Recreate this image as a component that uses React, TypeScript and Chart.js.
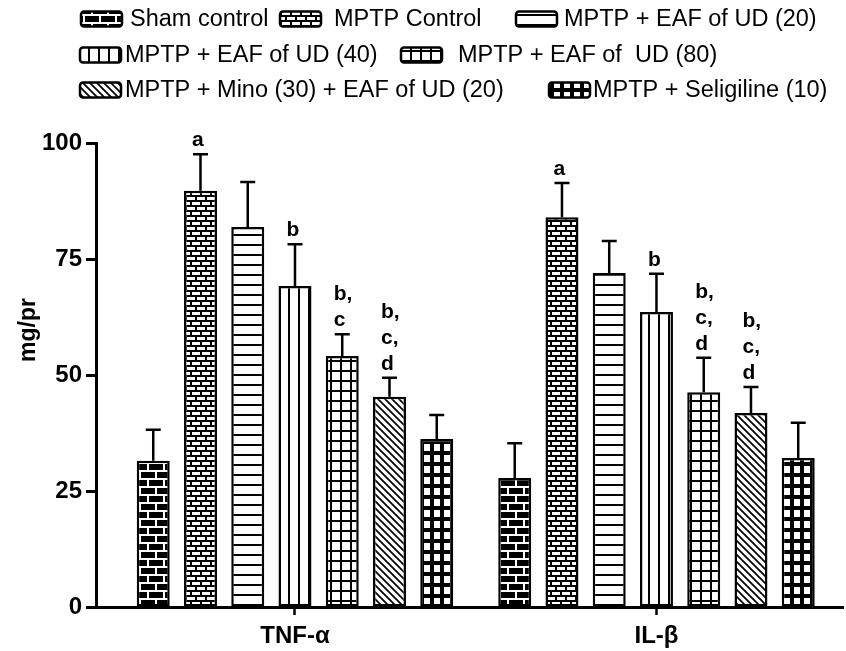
import React, { useEffect, useRef } from "react";
import { Chart, registerables } from "chart.js";

Chart.register(...registerables);

const FONT = '"Liberation Sans", Arial, Helvetica, sans-serif';

// Categories (x axis)
const categories = ["TNF-\u03b1", "IL-\u03b2"];

// Group (series) labels
const groupLabels = [
  "Sham control",
  " MPTP Control",
  "MPTP + EAF of UD (20)",
  "MPTP + EAF of UD (40)",
  "MPTP + EAF of  UD (80)",
  "MPTP + Mino (30) + EAF of UD (20)",
  "MPTP + Seligiline (10)",
];

// Means per group [TNF-α, IL-β]
const shamValues = [31.5, 27.8];
const mptpValues = [89.7, 84.0];
const ud20Values = [81.9, 72.0];
const ud40Values = [69.2, 63.6];
const ud80Values = [54.1, 46.3];
const minoValues = [45.3, 41.8];
const seligValues = [36.2, 32.1];

// Error (SEM) per group [TNF-α, IL-β]
const shamErr = [6.7, 7.5];
const mptpErr = [7.9, 7.4];
const ud20Err = [9.7, 6.9];
const ud40Err = [9.0, 8.2];
const ud80Err = [4.7, 7.4];
const minoErr = [4.1, 5.6];
const seligErr = [5.2, 7.6];

// Significance letters per group [TNF-α, IL-β]
const shamLetters = ["", ""];
const mptpLetters = ["a", "a"];
const ud20Letters = ["", ""];
const ud40Letters = ["b", "b"];
const ud80Letters = ["b,\nc", "b,\nc,\nd"];
const minoLetters = ["b,\nc,\nd", "b,\nc,\nd"];
const seligLetters = ["", ""];

// Y axis ticks
const yTicks = [0, 25, 50, 75, 100];
const yTitle = "mg/pr";

const groupValues = [shamValues, mptpValues, ud20Values, ud40Values, ud80Values, minoValues, seligValues];
const groupErrs = [shamErr, mptpErr, ud20Err, ud40Err, ud80Err, minoErr, seligErr];
const groupLetters = [shamLetters, mptpLetters, ud20Letters, ud40Letters, ud80Letters, minoLetters, seligLetters];
const patternKinds = ["brickDark", "brickFine", "hlines", "vlines", "grid", "diag", "boldGrid"];

// legend layout (style only)
const legendLayout = [
  { sx: 81, tx: 130, y: 19 },
  { sx: 280, tx: 334, y: 19 },
  { sx: 516, tx: 564, y: 19 },
  { sx: 80, tx: 125, y: 55 },
  { sx: 401, tx: 458, y: 55 },
  { sx: 80, tx: 125, y: 90 },
  { sx: 549, tx: 593, y: 90 },
];

function makePattern(kind: string): CanvasPattern | string {
  const c = document.createElement("canvas");
  const setup = (w: number, h: number) => {
    c.width = w;
    c.height = h;
    return c.getContext("2d") as CanvasRenderingContext2D;
  };
  let ctx: CanvasRenderingContext2D;
  switch (kind) {
    case "brickDark":
      ctx = setup(16, 16);
      ctx.fillStyle = "#000";
      ctx.fillRect(0, 0, 16, 16);
      ctx.fillStyle = "#fff";
      ctx.fillRect(0, 6, 16, 2);
      ctx.fillRect(0, 14, 16, 2);
      ctx.fillRect(3, 0, 2, 6);
      ctx.fillRect(11, 8, 2, 6);
      break;
    case "brickFine":
      ctx = setup(10, 10);
      ctx.fillStyle = "#fff";
      ctx.fillRect(0, 0, 10, 10);
      ctx.fillStyle = "#000";
      ctx.fillRect(0, 0, 10, 2);
      ctx.fillRect(0, 5, 10, 2);
      ctx.fillRect(0, 2, 2, 3);
      ctx.fillRect(5, 7, 2, 3);
      break;
    case "hlines":
      ctx = setup(10, 10);
      ctx.fillStyle = "#fff";
      ctx.fillRect(0, 0, 10, 10);
      ctx.fillStyle = "#000";
      ctx.fillRect(0, 4, 10, 2);
      break;
    case "vlines":
      ctx = setup(10, 10);
      ctx.fillStyle = "#fff";
      ctx.fillRect(0, 0, 10, 10);
      ctx.fillStyle = "#000";
      ctx.fillRect(8, 0, 2, 10);
      break;
    case "grid":
      ctx = setup(10, 10);
      ctx.fillStyle = "#fff";
      ctx.fillRect(0, 0, 10, 10);
      ctx.fillStyle = "#000";
      ctx.fillRect(0, 0, 10, 2);
      ctx.fillRect(0, 0, 2, 10);
      break;
    case "diag":
      ctx = setup(7, 7);
      ctx.fillStyle = "#fff";
      ctx.fillRect(0, 0, 7, 7);
      ctx.strokeStyle = "#000";
      ctx.lineWidth = 1.7;
      ctx.beginPath();
      ctx.moveTo(0, 0);
      ctx.lineTo(7, 7);
      ctx.moveTo(-1, 6);
      ctx.lineTo(1, 8);
      ctx.moveTo(6, -1);
      ctx.lineTo(8, 1);
      ctx.stroke();
      break;
    case "boldGrid":
    default:
      ctx = setup(10, 11);
      ctx.fillStyle = "#000";
      ctx.fillRect(0, 0, 10, 11);
      ctx.fillStyle = "#fff";
      ctx.fillRect(4, 4, 6, 7);
      break;
  }
  const main = document.createElement("canvas").getContext("2d") as CanvasRenderingContext2D;
  return main.createPattern(c, "repeat") || "#888";
}

export default function App() {
  const canvasRef = useRef<HTMLCanvasElement | null>(null);

  useEffect(() => {
    document.body.style.margin = "0";
    const canvas = canvasRef.current;
    if (!canvas) return;
    const patterns = patternKinds.map((k) => makePattern(k));

    const overlay = {
      id: "overlay",
      afterDatasetsDraw(chart: any) {
        const ctx = chart.ctx as CanvasRenderingContext2D;
        const yScale = chart.scales.y;
        ctx.save();
        groupValues.forEach((vals, di) => {
          const meta = chart.getDatasetMeta(di);
          meta.data.forEach((bar: any, j: number) => {
            const v = vals[j];
            const e = groupErrs[di][j];
            const yBar = yScale.getPixelForValue(v);
            const yTop = yScale.getPixelForValue(v + e);
            ctx.strokeStyle = "#000";
            ctx.lineWidth = 2.5;
            ctx.beginPath();
            ctx.moveTo(bar.x, yBar);
            ctx.lineTo(bar.x, yTop);
            ctx.moveTo(bar.x - 7.5, yTop);
            ctx.lineTo(bar.x + 7.5, yTop);
            ctx.stroke();
            const txt = groupLetters[di][j];
            if (txt) {
              const lines = txt.split("\n");
              ctx.fillStyle = "#000";
              ctx.font = `bold 21px ${FONT}`;
              ctx.textAlign = "left";
              ctx.textBaseline = "alphabetic";
              const n = lines.length;
              lines.forEach((ln, k) => {
                const base = yTop - 8 - (n - 1 - k) * 26;
                ctx.fillText(ln, bar.x - 8.5, base);
              });
            }
          });
        });
        ctx.restore();
      },
      afterDraw(chart: any) {
        const ctx = chart.ctx as CanvasRenderingContext2D;
        ctx.save();
        // legend
        groupLabels.forEach((label, i) => {
          const L = legendLayout[i];
          const w = 41;
          const h = 15;
          const top = L.y - h / 2;
          ctx.fillStyle = patterns[i] as any;
          ctx.beginPath();
          if ((ctx as any).roundRect) (ctx as any).roundRect(L.sx, top, w, h, 3);
          else ctx.rect(L.sx, top, w, h);
          ctx.fill();
          ctx.lineWidth = 2.5;
          ctx.strokeStyle = "#000";
          ctx.stroke();
          ctx.fillStyle = "#000";
          ctx.font = `23.5px ${FONT}`;
          ctx.textAlign = "left";
          ctx.textBaseline = "middle";
          ctx.fillText(label.trimStart(), L.tx, L.y + 1);
        });
        // y title
        ctx.translate(29, 330);
        ctx.rotate(-Math.PI / 2);
        ctx.font = `bold 23px ${FONT}`;
        ctx.textAlign = "center";
        ctx.textBaseline = "middle";
        ctx.fillStyle = "#000";
        ctx.fillText(yTitle, 0, 0);
        ctx.restore();
      },
    };

    const datasets = groupLabels.map((label, di) => ({
      label,
      data: categories.map((_, j) => ({ x: j, y: groupValues[di][j] })),
      backgroundColor: patterns[di] as any,
      borderColor: "#000",
      borderWidth: 2.5,
      borderSkipped: false as any,
      categoryPercentage: 0.915,
      barPercentage: 0.698,
    }));

    const chart = new Chart(canvas, {
      type: "bar",
      data: { datasets } as any,
      options: {
        responsive: false,
        animation: false,
        devicePixelRatio: 1,
        layout: { padding: { top: 143, right: 3, left: 0, bottom: 0 } },
        plugins: { legend: { display: false }, tooltip: { enabled: false } },
        scales: {
          x: {
            type: "linear",
            min: -0.5505,
            max: 1.516,
            offset: false,
            afterBuildTicks: (s: any) => {
              s.ticks = categories.map((_, i) => ({ value: i }));
            },
            afterFit: (s: any) => {
              s.height = 44;
            },
            ticks: {
              callback: (v: any) => categories[Math.round(Number(v))] ?? "",
              font: { family: FONT, size: 24, weight: "bold" },
              color: "#000",
              padding: 7,
              maxRotation: 0,
              autoSkip: false,
            },
            grid: {
              offset: false,
              drawOnChartArea: false,
              drawTicks: true,
              tickLength: 8,
              tickWidth: 2.5,
              tickColor: "#000",
              color: "#000",
            },
            border: { display: true, width: 3, color: "#000" },
          } as any,
          y: {
            min: 0,
            max: 100,
            afterBuildTicks: (s: any) => {
              s.ticks = yTicks.map((v) => ({ value: v }));
            },
            afterFit: (s: any) => {
              s.width = 96;
            },
            ticks: {
              font: { family: FONT, size: 24, weight: "bold" },
              color: "#000",
              padding: 4,
            },
            grid: {
              drawOnChartArea: false,
              drawTicks: true,
              tickLength: 10,
              tickWidth: 3,
              tickColor: "#000",
              color: "#000",
            },
            border: { display: true, width: 3, color: "#000" },
          } as any,
        },
      },
      plugins: [overlay],
    });

    return () => {
      chart.destroy();
    };
  }, []);

  return (
    <div style={{ width: 846, height: 651, background: "#fff" }}>
      <canvas ref={canvasRef} width={846} height={651} style={{ display: "block" }} />
    </div>
  );
}
